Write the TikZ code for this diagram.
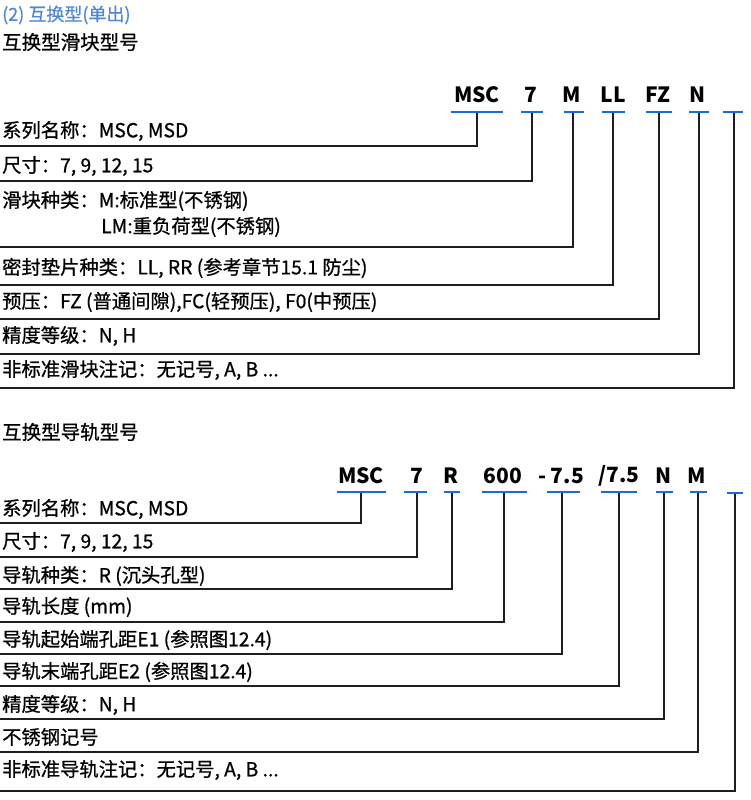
\documentclass[tikz,border=0pt]{standalone}
\usepackage{fontspec}
\setmainfont{Noto Sans CJK SC}
\definecolor{titleblue}{HTML}{4F86D6}
\definecolor{ulblue}{HTML}{1A6BD4}
\definecolor{linegray}{HTML}{1E1E1E}
\begin{document}
\begin{tikzpicture}[x=1pt,y=-1pt,
  txt/.style={anchor=west,inner sep=0pt,font=\fontsize{19.3}{22}\selectfont\addfontfeatures{FakeBold=0.8},text=black},
  head/.style={anchor=west,inner sep=0pt,font=\fontsize{19.5}{22}\selectfont\addfontfeatures{FakeBold=0.8},text=black},
  code/.style={inner sep=0pt,font=\bfseries\fontsize{21}{24}\selectfont,text=black},
  uline/.style={draw=ulblue,line width=2.2pt},
  conn/.style={draw=linegray,line width=1.4pt}]
\useasboundingbox (0,0) rectangle (750,800);
% titles
\node[anchor=west,inner sep=0pt,font=\fontsize{18}{21}\selectfont\addfontfeatures{FakeBold=0.6},text=titleblue] (t1) at (2,15) {(2) 互换型(单出)};
\node[head] (t2) at (2,42) {互换型滑块型号};
% section 1 codes
\node[code] (c1) at (477,95) {MSC};
\node[code] (c2) at (531,95) {7};
\node[code] (c3) at (572,95) {M};
\node[code] (c4) at (613,95) {LL};
\node[code] (c5) at (658,95) {FZ};
\node[code] (c6) at (698,95) {N};
% underlines
\draw[uline] (451,112) -- (503,112);
\draw[uline] (521,112) -- (543,112);
\draw[uline] (564,112) -- (584,112);
\draw[uline] (602,112) -- (625,112);
\draw[uline] (646,112) -- (672,112);
\draw[uline] (689,112) -- (709,112);
\draw[uline] (723,112) -- (743,112);
\coordinate (u1) at (477,113);
\coordinate (u2) at (532,113);
\coordinate (u3) at (573,113);
\coordinate (u4) at (613,113);
\coordinate (u5) at (659,113);
\coordinate (u6) at (699,113);
\coordinate (u7) at (734,113);
\coordinate (e1) at (0,146);
\coordinate (e2) at (0,181);
\coordinate (e3) at (0,247);
\coordinate (e4) at (0,285);
\coordinate (e5) at (0,319);
\coordinate (e6) at (0,354);
\coordinate (e7) at (0,388);
\draw[conn] (u1) |- (e1);
\draw[conn] (u2) |- (e2);
\draw[conn] (u3) |- (e3);
\draw[conn] (u4) |- (e4);
\draw[conn] (u5) |- (e5);
\draw[conn] (u6) |- (e6);
\draw[conn] (u7) |- (e7);
% section 1 texts
\node[txt] (a1) at (2,131) {系列名称：MSC, MSD};
\node[txt] (a2) at (2,166) {尺寸：7, 9, 12, 15};
\node[txt] (a3) at (2,201) {滑块种类：M:标准型(不锈钢)};
\node[txt] (a3b) at (101,227) {LM:重负荷型(不锈钢)};
\node[txt] (a4) at (2,268) {密封垫片种类：LL, RR (参考章节15.1 防尘)};
\node[txt] (a5) at (2,302) {预压：FZ (普通间隙),FC(轻预压), F0(中预压)};
\node[txt] (a6) at (2,336) {精度等级：N, H};
\node[txt] (a7) at (2,370) {非标准滑块注记：无记号, A, B ...};
% section 2
\node[head] (t3) at (2,432) {互换型导轨型号};
\node[code] (d1) at (361,476) {MSC};
\node[code] (d2) at (417,476) {7};
\node[code] (d3) at (451,476) {R};
\node[code] (d4) at (503,476) {600};
\node[code] (d5) at (561,476) {- 7.5};
\node[code] (d6) at (619,476) {/7.5};
\node[code] (d7) at (664,476) {N};
\node[code] (d8) at (697,476) {M};
\draw[uline] (337,492) -- (386,492);
\draw[uline] (404,492) -- (427,492);
\draw[uline] (444,492) -- (460,492);
\draw[uline] (482,492) -- (527,492);
\draw[uline] (547,492) -- (580,492);
\draw[uline] (601,492) -- (637,492);
\draw[uline] (656,492) -- (673,492);
\draw[uline] (690,492) -- (707,492);
\draw[uline] (727,493) -- (743,493);
\coordinate (v1) at (361,493);
\coordinate (v2) at (417,493);
\coordinate (v3) at (452,493);
\coordinate (v4) at (504,493);
\coordinate (v5) at (562,493);
\coordinate (v6) at (619,493);
\coordinate (v7) at (664,493);
\coordinate (v8) at (698,493);
\coordinate (v9) at (735,494);
\coordinate (f1) at (0,523);
\coordinate (f2) at (0,557);
\coordinate (f3) at (0,589);
\coordinate (f4) at (0,622);
\coordinate (f5) at (0,654);
\coordinate (f6) at (0,686);
\coordinate (f7) at (0,719);
\coordinate (f8) at (0,752);
\coordinate (f9) at (0,791);
\draw[conn] (v1) |- (f1);
\draw[conn] (v2) |- (f2);
\draw[conn] (v3) |- (f3);
\draw[conn] (v4) |- (f4);
\draw[conn] (v5) |- (f5);
\draw[conn] (v6) |- (f6);
\draw[conn] (v7) |- (f7);
\draw[conn] (v8) |- (f8);
\draw[conn] (v9) |- (f9);
\node[txt] (b1) at (2,509) {系列名称：MSC, MSD};
\node[txt] (b2) at (2,542) {尺寸：7, 9, 12, 15};
\node[txt] (b3) at (2,576) {导轨种类：R (沉头孔型)};
\node[txt] (b4) at (2,607) {导轨长度 (mm)};
\node[txt] (b5) at (2,640) {导轨起始端孔距E1 (参照图12.4)};
\node[txt] (b6) at (2,672) {导轨末端孔距E2 (参照图12.4)};
\node[txt] (b7) at (2,705) {精度等级：N, H};
\node[txt] (b8) at (2,737) {不锈钢记号};
\node[txt] (b9) at (2,770) {非标准导轨注记：无记号, A, B ...};
\end{tikzpicture}
\end{document}
